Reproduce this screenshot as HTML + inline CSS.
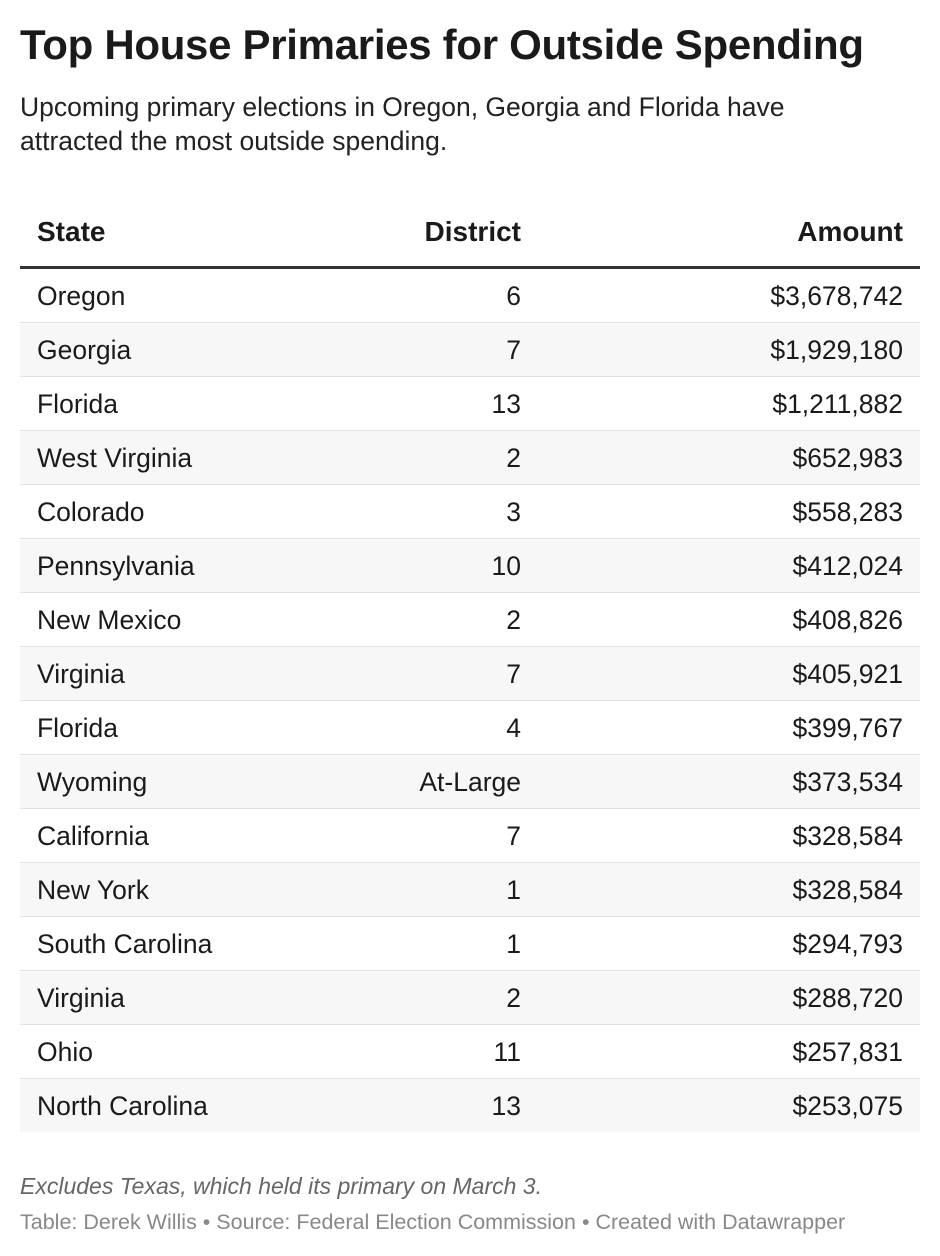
<!DOCTYPE html>
<html><head><meta charset="utf-8"><style>
body{margin:0;width:940px;height:1256px;background:#fff;font-family:"Liberation Sans",Arial,sans-serif;color:#1a1a1a;position:relative;overflow:hidden}
.abs{position:absolute}
#title{left:20px;top:21px;font-size:42px;font-weight:bold;letter-spacing:-0.3px;white-space:nowrap}
#sub{left:20px;top:90px;font-size:26.5px;line-height:34px;color:#222;width:830px}
.hd{top:216px;font-size:28px;font-weight:bold;white-space:nowrap}
#rule{left:20px;top:266px;width:900px;height:3px;background:#333}
.row{position:absolute;left:20px;width:900px;height:53px;border-bottom:1px solid #e3e3e3;font-size:26.5px}
.row.alt{background:#f7f7f7}
.row span{position:absolute;top:12px;white-space:nowrap}
.c1{left:17px}.c2{right:399px}.c3{right:17px}
#note{left:20px;top:1173px;font-size:23px;font-style:italic;color:#666}
#src{left:20px;top:1210px;font-size:21.5px;color:#888}
</style></head><body>
<div id="title" class="abs">Top House Primaries for Outside Spending</div>
<div id="sub" class="abs">Upcoming primary elections in Oregon, Georgia and Florida have attracted the most outside spending.</div>
<div class="abs hd" style="left:37px">State</div>
<div class="abs hd" style="right:419px">District</div>
<div class="abs hd" style="right:37px">Amount</div>
<div id="rule" class="abs"></div>
<div id="rows"></div>
<div id="note" class="abs">Excludes Texas, which held its primary on March 3.</div>
<div id="src" class="abs">Table: Derek Willis • Source: Federal Election Commission • Created with Datawrapper</div>
<script>
const states=["Oregon","Georgia","Florida","West Virginia","Colorado","Pennsylvania","New Mexico","Virginia","Florida","Wyoming","California","New York","South Carolina","Virginia","Ohio","North Carolina"];
const districts=["6","7","13","2","3","10","2","7","4","At-Large","7","1","1","2","11","13"];
const amounts=["$3,678,742","$1,929,180","$1,211,882","$652,983","$558,283","$412,024","$408,826","$405,921","$399,767","$373,534","$328,584","$328,584","$294,793","$288,720","$257,831","$253,075"];
const wrap=document.getElementById('rows');
states.forEach((s,i)=>{
  const r=document.createElement('div');
  
  
  r.className='row'+(i%2?' alt':'');
  r.style.top=(269+i*54)+'px';
  if(i===states.length-1)r.style.borderBottom='none';
  [[s,'c1','state-cell'],[districts[i],'c2','district-cell'],[amounts[i],'c3','amount-cell']].forEach(([t,c,n])=>{
    const sp=document.createElement('span');
    
    
    sp.className=c;sp.textContent=t;r.appendChild(sp);
  });
  wrap.appendChild(r);
});
</script>
</body></html>
